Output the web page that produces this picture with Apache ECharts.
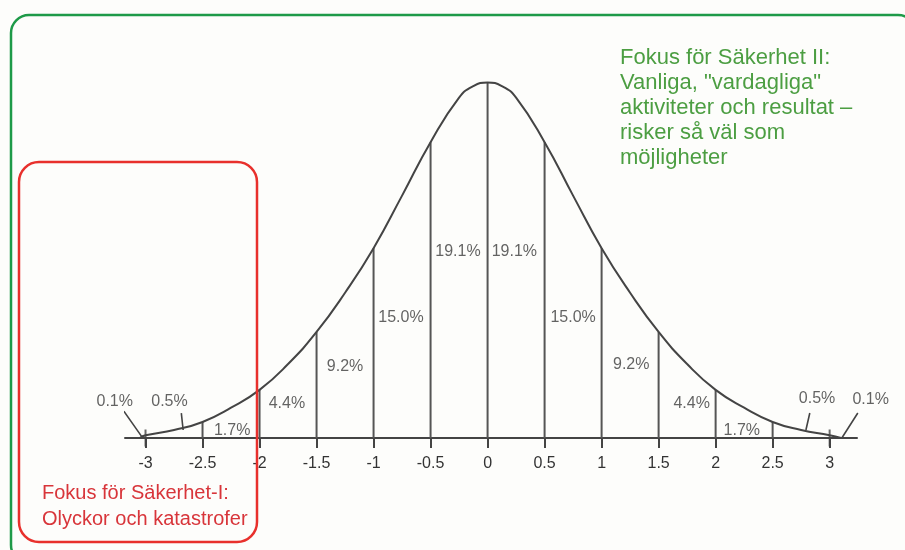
<!DOCTYPE html>
<html>
<head>
<meta charset="utf-8">
<script src="https://cdn.jsdelivr.net/npm/echarts@6/dist/echarts.min.js"></script>
<style>
html,body{margin:0;padding:0;background:#fdfdfb;}
#chart{width:905px;height:550px;}
</style>
</head>
<body>
<div id="chart"></div>
<script>
// ---- data ----
const curveX = [-3.05, -3, -2.75, -2.5, -2.25, -2, -1.75, -1.5, -1.25, -1, -0.75, -0.5, -0.25, -0.125, 0, 0.125, 0.25, 0.5, 0.75, 1, 1.25, 1.5, 1.75, 2, 2.25, 2.5, 2.75, 3, 3.1];
const curveY = [0, 0.003, 0.009, 0.018, 0.034, 0.054, 0.083, 0.119, 0.163, 0.213, 0.272, 0.332, 0.382, 0.395, 0.399, 0.395, 0.382, 0.332, 0.272, 0.213, 0.163, 0.119, 0.083, 0.054, 0.034, 0.018, 0.009, 0.003, 0];
const dividerX = [-2.5, -2, -1.5, -1, -0.5, 0, 0.5, 1, 1.5, 2, 2.5];
const tickValues = [-3, -2.5, -2, -1.5, -1, -0.5, 0, 0.5, 1, 1.5, 2, 2.5, 3];
const bandPct = ['0.1%', '0.5%', '1.7%', '4.4%', '9.2%', '15.0%', '19.1%', '19.1%', '15.0%', '9.2%', '4.4%', '1.7%', '0.5%', '0.1%'];
const greenNote = ['Fokus för Säkerhet II:', 'Vanliga, "vardagliga"', 'aktiviteter och resultat –', 'risker så väl som', 'möjligheter'];
const redNote = ['Fokus för Säkerhet-I:', 'Olyckor och katastrofer'];

// ---- layout (label anchors in data coordinates) ----
const pctPos = [[-3.27, 0.041], [-2.79, 0.041], [-2.24, 0.008], [-1.76, 0.039], [-1.25, 0.080], [-0.76, 0.135], [-0.26, 0.209],
                [0.235, 0.209], [0.75, 0.135], [1.26, 0.082], [1.79, 0.039], [2.23, 0.008], [2.89, 0.044], [3.36, 0.043]];
const leaders = [[[-3.19, 0.030], [-3.03, 0.001]], [[-2.686, 0.028], [-2.67, 0.009]],
                 [[2.826, 0.028], [2.792, 0.009]], [[3.247, 0.028], [3.107, 0.0]]];

function curveAt(x) {
  const i = curveX.indexOf(x);
  return curveY[i];
}

const lineCol = '#444444';
const chart = echarts.init(document.getElementById('chart'));

const leaderData = [];
leaders.forEach(function (seg) { leaderData.push(seg[0], seg[1], [null, null]); });

const option = {
  backgroundColor: '#fdfdfb',
  animation: false,
  grid: { left: 125, width: 732, top: 37, bottom: 112 },
  xAxis: {
    type: 'value', min: -3.18, max: 3.24,
    splitLine: { show: false },
    axisLine: { show: true, onZero: false, lineStyle: { color: lineCol, width: 2 } },
    axisTick: { show: true, customValues: tickValues, length: 10, lineStyle: { color: lineCol, width: 2 } },
    axisLabel: { customValues: tickValues, margin: 18, color: '#333333', fontSize: 16, fontFamily: 'Liberation Sans, Arial, sans-serif',
      formatter: function (v) { return String(v); } }
  },
  yAxis: { type: 'value', min: 0, max: 0.45, show: false },
  series: [
    {
      type: 'line', data: curveX.map(function (x, i) { return [x, curveY[i]]; }),
      smooth: 0.5, showSymbol: false, z: 3,
      lineStyle: { color: lineCol, width: 2 }
    },
    {
      type: 'bar', data: dividerX.map(function (x) { return [x, curveAt(x)]; }),
      barWidth: 2, itemStyle: { color: '#555555' }, z: 2
    },
    {
      type: 'scatter', data: [[-3, 0], [3, 0]], symbol: 'rect', symbolSize: [2, 17],
      itemStyle: { color: lineCol }, z: 4
    },
    {
      type: 'line', data: leaderData, showSymbol: false, connectNulls: false, clip: false,
      lineStyle: { color: lineCol, width: 1.6 }, z: 4
    },
    {
      type: 'scatter', clip: false, symbolSize: 0,
      data: bandPct.map(function (t, i) { return { value: pctPos[i], name: t }; }),
      label: { show: true, position: 'inside', formatter: '{b}', color: '#3c3c3c', fontSize: 16,
        fontFamily: 'Liberation Sans, Arial, sans-serif' },
      z: 5
    }
  ],
  graphic: [
    { type: 'rect', shape: { x: 11, y: 15, width: 905, height: 548, r: 18 },
      style: { fill: 'none', stroke: '#1e9a48', lineWidth: 2.5 }, z: 0 },
    { type: 'rect', shape: { x: 19, y: 162, width: 238, height: 380, r: 20 },
      style: { fill: 'none', stroke: '#e8302c', lineWidth: 2.5 }, z: 10 },
    { type: 'text', left: 620, top: 45,
      style: { text: greenNote.join('\n'), fill: '#4c9e42', font: '22px "Liberation Sans", Arial, sans-serif', lineHeight: 25 } },
    { type: 'text', left: 42, top: 480,
      style: { text: redNote.join('\n'), fill: '#d8353a', font: '20px "Liberation Sans", Arial, sans-serif', lineHeight: 26 } }
  ]
};
chart.setOption(option);
</script>
</body>
</html>
